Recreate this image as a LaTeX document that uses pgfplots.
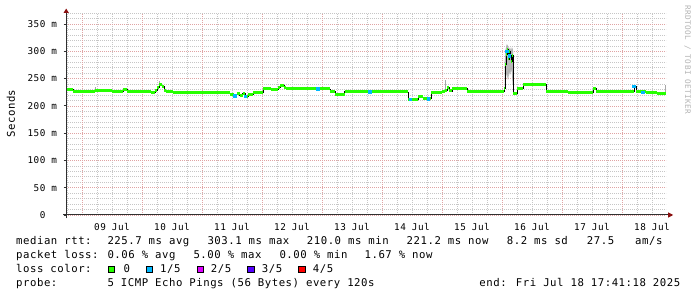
\documentclass[border=0pt]{standalone}
\usepackage{pgfplots}
\usepackage{pgfplotstable}
\pgfplotsset{compat=1.18}
\usepackage{fontspec}
\setmainfont{DejaVu Sans Mono}
\newfontfamily\monof[LetterSpace=5]{DejaVu Sans Mono}
\newcommand\legf{\monof\fontsize{10.67}{12}\selectfont}
\newcommand\tickf{\monof\fontsize{9.33}{11}\selectfont}
\newcommand\wmf{\monof\fontsize{7.7}{9}\selectfont}
\definecolor{lgreen}{HTML}{26FF00}
\definecolor{lblue}{HTML}{00B8FF}
\definecolor{lmag}{HTML}{DD00FF}
\definecolor{lviol}{HTML}{5500FF}
\definecolor{lred}{HTML}{FF0000}
\definecolor{mgridc}{HTML}{E0A4A4}
\definecolor{gridc}{HTML}{C6C6C6}
\definecolor{arrowc}{HTML}{8B1010}
\definecolor{axisc}{HTML}{303030}
\definecolor{wmc}{HTML}{B4B4B4}

\pgfplotstableread{
x y
-0.263 230.3
-0.15 226.5
0.0 225.8
0.217 227.8
0.5 226
0.683 230.5
0.75 226.4
0.95 225.5
1.15 225
1.217 228
1.25 234
1.283 238.5
1.333 236
1.367 229
1.4 226.5
1.517 224.8
1.9 224.2
2.3 223.6
2.467 221
2.53 218.5
2.58 222
2.63 219
2.68 222.5
2.72 217.5
2.77 221.5
2.85 224.8
3.017 231
3.15 230.4
3.267 234
3.3 238
3.367 233
3.4 231.5
3.8 231
4.133 226
4.22 221.7
4.38 225.8
4.9 226.2
5.2 225.6
5.433 212
5.6 216.5
5.683 213
5.817 225.2
6.0 225.8
6.05 229
6.083 234
6.117 227.5
6.167 231.8
6.417 225.6
6.8 225.9
7.033 232
7.05 276
7.067 295
7.083 304
7.1 286
7.117 299
7.133 292
7.15 281
7.167 293
7.183 222.5
7.25 231.8
7.35 238.6
7.733 226
8.1 225.4
8.517 232
8.567 226
9.2 236
9.233 225.8
9.4 225
9.583 222
9.737 222
}\median

\begin{document}
\begin{tikzpicture}
\fill[white] (0,0) rectangle (697pt,297pt);
\path[use as bounding box] (0,0) rectangle (697pt,297pt);
\begin{axis}[
  name=ax,
  at={(66.2pt,82pt)}, anchor=south west,
  scale only axis, width=600pt, height=201.9pt,
  xmin=-0.263, xmax=9.737, ymin=0, ymax=370,
  axis line style={draw=none},
  xtick={0.5,1.5,...,9.5},
  xticklabels={09 Jul,10 Jul,11 Jul,12 Jul,13 Jul,14 Jul,15 Jul,16 Jul,17 Jul,18 Jul},
  minor xtick={-0.25,0.25,0.5,0.75,1.25,1.5,1.75,2.25,2.5,2.75,3.25,3.5,3.75,4.25,4.5,4.75,5.25,5.5,5.75,6.25,6.5,6.75,7.25,7.5,7.75,8.25,8.5,8.75,9.25,9.5},
  extra x ticks={0,1,...,9},
  extra x tick labels={},
  extra x tick style={grid=major, minor xtick={}, xminorgrids=false, major tick length=0pt},
  ytick={0,50,...,350},
  yticklabels={0\hphantom{\ m},50 m,100 m,150 m,200 m,250 m,300 m,350 m},
  minor ytick={10,20,30,40,60,70,80,90,110,120,130,140,160,170,180,190,210,220,230,240,260,270,280,290,310,320,330,340,360,370},
  xmajorgrids=false, xminorgrids=true,
  ymajorgrids=true, yminorgrids=true,
  major grid style={mgridc, line width=0.6pt, dash pattern=on 1pt off 1pt},
  minor grid style={gridc, line width=0.6pt, dash pattern=on 1pt off 1pt},
  xtick style={draw=none},
  ytick style={axisc, line width=0.8pt},
  major tick length=2.5pt, minor tick length=0pt,
  tick align=outside,
  xtick pos=bottom, ytick pos=left,
  xticklabel style={font=\tickf, anchor=north, inner sep=0pt, yshift=-5.3pt},
  yticklabel style={font=\tickf, anchor=east, inner sep=0pt, xshift=-6.4pt},
  clip=true,
]
% smoke around the spike
\addplot[fill=gray!55, draw=gray!70, line width=0.4pt] coordinates {
 (7.05,232) (7.067,255) (7.083,262) (7.1,250) (7.117,266) (7.133,258) (7.15,270) (7.167,262) (7.183,240)
 (7.183,300) (7.167,306) (7.15,298) (7.133,306) (7.117,302) (7.1,308) (7.083,312) (7.067,305) (7.05,282)} -- cycle;
\addplot[gray!70, line width=0.8pt, unbounded coords=jump] coordinates {
 (0.217,227) (0.217,235) (0.3,nan)
 (1.283,236) (1.283,246) (1.4,nan)
 (6.05,228) (6.05,248) (6.2,nan)
 (9.717,222) (9.717,238)};
\addplot[const plot, black, line width=0.7pt] table {\median};
\addplot[jump mark left, lgreen, line width=3pt] table {\median};
\addplot[only marks, mark=square*, mark size=1.3pt, color=lblue] coordinates {
 (2.55,218.5) (2.72,217.5) (3.93,231) (4.8,226.2) (5.47,212) (5.77,213)
 (7.08,300) (7.12,292) (9.2,236) (9.35,225)};
\end{axis}
% axis lines with arrows
\draw[axisc, line width=1pt] ([xshift=-3pt]ax.south west) -- ([xshift=2pt]ax.south east);
\fill[arrowc] ([xshift=2pt,yshift=-2.6pt]ax.south east) -- ([xshift=7pt]ax.south east) -- ([xshift=2pt,yshift=2.6pt]ax.south east) -- cycle;
\draw[axisc, line width=1pt] ([yshift=-3.5pt]ax.south west) -- ([yshift=0.5pt]ax.north west);
\fill[arrowc] ([xshift=-2.6pt,yshift=0.3pt]ax.north west) -- ([yshift=4.5pt]ax.north west) -- ([xshift=2.6pt,yshift=0.3pt]ax.north west) -- cycle;
% y label and watermark
\node[rotate=90, font=\legf, inner sep=0pt] at (11pt,183.3pt) {Seconds};
\node[rotate=-90, font=\wmf, text=wmc, inner sep=0pt] at (687.5pt,237pt) {RRDTOOL / TOBI OETIKER};
% legend rows
\begin{scope}[every node/.style={anchor=base west, inner sep=0pt, font=\legf}]
\node at (16pt,52pt) {median rtt:};
\node at (107.3pt,52pt) {225.7 ms avg};
\node at (207.3pt,52pt) {303.1 ms max};
\node at (306.7pt,52pt) {210.0 ms min};
\node at (406.5pt,52pt) {221.2 ms now};
\node at (506.7pt,52pt) {8.2 ms sd};
\node at (586.7pt,52pt) {27.5};
\node at (635pt,52pt) {am/s};
\node at (16pt,38.2pt) {packet loss:};
\node at (107.3pt,38.2pt) {0.06 \% avg};
\node at (193.3pt,38.2pt) {5.00 \% max};
\node at (279.3pt,38.2pt) {0.00 \% min};
\node at (364.4pt,38.2pt) {1.67 \% now};
\node at (16pt,24.3pt) {loss color:};
\node at (123.3pt,24.3pt) {0};
\node at (160pt,24.3pt) {1/5};
\node at (210.7pt,24.3pt) {2/5};
\node at (261.7pt,24.3pt) {3/5};
\node at (312.7pt,24.3pt) {4/5};
\node at (16pt,10.3pt) {probe:};
\node at (107.3pt,10.3pt) {5 ICMP Echo Pings (56 Bytes) every 120s};
\node[anchor=base east] at (680.5pt,10.3pt) {end: Fri Jul 18 17:41:18 2025};
\end{scope}
\filldraw[fill=lgreen, draw=black, line width=0.8pt] (108.8pt,24.2pt) rectangle (114.8pt,31pt);
\filldraw[fill=lblue, draw=black, line width=0.8pt] (146.2pt,24.2pt) rectangle (152.8pt,31pt);
\filldraw[fill=lmag, draw=black, line width=0.8pt] (197.2pt,24.2pt) rectangle (203.6pt,31pt);
\filldraw[fill=lviol, draw=black, line width=0.8pt] (247.8pt,24.2pt) rectangle (254.6pt,31pt);
\filldraw[fill=lred, draw=black, line width=0.8pt] (298.8pt,24.2pt) rectangle (305.6pt,31pt);
\end{tikzpicture}
\end{document}
